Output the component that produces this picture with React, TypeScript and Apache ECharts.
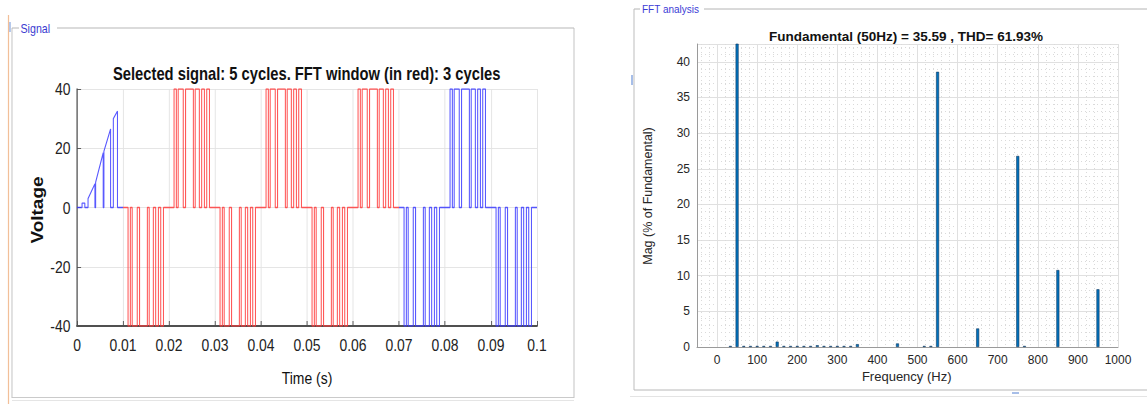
import React, { useEffect, useRef } from "react";
import * as echarts from "echarts";

// ---------------- Signal (time domain) data ----------------
// start of each half cycle after the start-up transient (ms)
const halfCycleStartMs = [10, 20, 30, 40, 50, 60, 70, 80, 90];
const halfCyclePolarity = [-1, 1, -1, 1, -1, 1, -1, 1, -1];
const halfCycleInFftWindow = [true, true, true, true, true, true, false, false, false];
const halfCycleLengthMs = 10;
// switching instants inside a half cycle (ms from its start)
const pulseOnMs = [1.1, 2.0, 3.6, 5.7, 7.1, 8.2];
const pulseOffMs = [1.6, 3.1, 5.3, 6.6, 7.7, 8.8];
const pulseLevelV = 40;
// start-up transient during the first half cycle
const transientTimeMs = [0, 1.1, 1.1, 1.7, 1.7, 2.4, 2.4, 3.9, 3.9, 4.05, 4.05, 5.7, 5.7, 5.85, 5.85, 7.3, 7.3, 7.9, 7.9, 8.8, 8.8, 10];
const transientVolt = [0, 0, 1.5, 1.5, 0, 0, 3, 8, 0, 0, 8.5, 18.5, 0, 0, 19, 26.5, 0, 0, 30, 32.5, 0, 0];

// ---------------- FFT data ----------------
const fftFreqHz = [33.3, 50, 66.7, 83.3, 100, 116.7, 133.3, 150, 166.7, 183.3, 200, 216.7, 233.3, 250, 266.7, 283.3, 300, 316.7, 333.3, 350, 450, 516.7, 533.3, 550, 650, 750, 766.7, 850, 950];
const fftMagPct = [0.15, 100, 0.15, 0.15, 0.15, 0.15, 0.15, 0.75, 0.15, 0.15, 0.15, 0.15, 0.15, 0.25, 0.15, 0.15, 0.15, 0.15, 0.15, 0.4, 0.5, 0.15, 0.15, 38.6, 2.6, 26.8, 0.15, 10.8, 8.1];

const leftTitle = "Selected signal: 5 cycles. FFT window (in red): 3 cycles";
const rightTitle = "Fundamental (50Hz) = 35.59 , THD= 61.93%";

const FONT = "'Liberation Sans', Arial, Helvetica, sans-serif";
const SX = 0.82; // horizontal compression of the left panel

function halfCyclePoints(i: number): number[][] {
  const s = halfCycleStartMs[i];
  const lvl = halfCyclePolarity[i] * pulseLevelV;
  const pts: number[][] = [[s / 1000, 0]];
  for (let k = 0; k < pulseOnMs.length; k++) {
    const on = (s + pulseOnMs[k]) / 1000;
    const off = (s + pulseOffMs[k]) / 1000;
    pts.push([on, 0], [on, lvl], [off, lvl], [off, 0]);
  }
  pts.push([(s + halfCycleLengthMs) / 1000, 0]);
  return pts;
}

function buildSignal() {
  const start = transientTimeMs.map((t, i) => [t / 1000, transientVolt[i]]);
  const red: number[][] = [];
  const blueEnd: number[][] = [];
  halfCycleStartMs.forEach((_, i) => {
    const pts = halfCyclePoints(i);
    if (halfCycleInFftWindow[i]) red.push(...pts);
    else blueEnd.push(...pts);
  });
  return { start, red, blueEnd };
}

function line(x1: number, y1: number, x2: number, y2: number, stroke: string, w = 1) {
  return { type: "line", silent: true, shape: { x1, y1, x2, y2 }, style: { stroke, lineWidth: w } };
}

export default function App() {
  const leftRef = useRef<HTMLDivElement>(null);
  const rightRef = useRef<HTMLDivElement>(null);

  useEffect(() => {
    const left = echarts.init(leftRef.current!, undefined, { renderer: "svg" });
    const right = echarts.init(rightRef.current!, undefined, { renderer: "svg" });
    const sig = buildSignal();
    const u = (x: number) => x / SX;
    const lineSeries = (data: number[][], color: string) => ({
      type: "line",
      data,
      showSymbol: false,
      symbol: "none",
      silent: true,
      lineStyle: { color, width: 1.3, opacity: 0.85 },
    });

    left.setOption({
      animation: false,
      textStyle: { fontFamily: FONT },
      grid: { left: u(77), top: 89, width: u(460), height: 237 },
      xAxis: {
        type: "value",
        min: 0,
        max: 0.1,
        interval: 0.01,
        axisLine: { show: true, onZero: false, lineStyle: { color: "#505050", width: 2 } },
        axisTick: { show: true, inside: true, length: 5, lineStyle: { color: "#505050" } },
        axisLabel: {
          fontSize: 17,
          color: "#222",
          margin: 10,
          fontFamily: FONT,
          formatter: (v: number) => String(Number(v.toFixed(2))),
        },
        splitLine: { show: true, lineStyle: { color: "#e2e2e2" } },
      },
      yAxis: {
        type: "value",
        min: -40,
        max: 40,
        interval: 20,
        axisLine: { show: true, onZero: false, lineStyle: { color: "#505050", width: 1.5 } },
        axisTick: { show: true, inside: true, length: 5, lineStyle: { color: "#505050" } },
        axisLabel: { fontSize: 17, color: "#222", margin: 8, fontFamily: FONT },
        splitLine: { show: true, lineStyle: { color: "#e2e2e2" } },
      },
      series: [
        lineSeries(sig.start, "#3c3cff"),
        lineSeries(sig.red, "#ff3c3c"),
        lineSeries(sig.blueEnd, "#3c3cff"),
      ],
      graphic: [
        line(u(8.5), 15, u(8.5), 404, "#f2bf99", 1.5),
        line(u(12), 28, u(12), 398, "#bdbdbd"),
        line(u(10), 22, u(10), 32, "#8aa8e0", 1.5),
        line(u(12), 28, u(19), 28, "#b0b0b0"),
        line(u(57), 28, u(574), 28, "#b0b0b0"),
        line(u(574), 28, u(574), 398, "#bdbdbd"),
        line(u(12), 397.5, u(574), 397.5, "#c4c4c4"),
        line(u(12), 400.5, u(574), 400.5, "#e2e2e2"),
        {
          type: "text",
          x: u(20.5),
          y: 29,
          style: { text: "Signal", fontSize: 13, fill: "#3b3bd0", fontFamily: FONT, verticalAlign: "middle", align: "left" },
        },
        {
          type: "text",
          x: u(306.7),
          y: 73,
          style: { text: leftTitle, fontSize: 18, fontWeight: "bold", fill: "#111", fontFamily: FONT, align: "center", verticalAlign: "middle" },
        },
        {
          type: "text",
          x: u(37.5),
          y: 210,
          rotation: Math.PI / 2,
          style: { text: "Voltage", fontSize: 19, fontWeight: "bold", fill: "#111", fontFamily: FONT, align: "center", verticalAlign: "middle" },
        },
        {
          type: "text",
          x: u(307),
          y: 378,
          style: { text: "Time (s)", fontSize: 17, fill: "#111", fontFamily: FONT, align: "center", verticalAlign: "middle" },
        },
      ],
    });

    const ox = 600;
    right.setOption({
      animation: false,
      textStyle: { fontFamily: FONT },
      grid: { left: 697 - ox, top: 44, width: 421, height: 303 },
      xAxis: {
        type: "value",
        min: -50,
        max: 1000,
        splitNumber: 10,
        minInterval: 100,
        maxInterval: 100,
        axisLine: { show: true, onZero: false, lineStyle: { color: "#9a9a9a" } },
        axisTick: { show: false },
        axisLabel: {
          fontSize: 12,
          color: "#262626",
          margin: 7,
          fontFamily: FONT,
          formatter: (v: number) => (v < 0 ? "" : String(v)),
        },
        splitLine: { show: true, lineStyle: { color: "#e0e0e0" } },
        minorTick: { show: false, splitNumber: 5 },
        minorSplitLine: { show: true, lineStyle: { color: "#dadada", type: [1, 3] } },
      },
      yAxis: {
        type: "value",
        min: 0,
        max: 42.5,
        interval: 5,
        axisLine: { show: true, onZero: false, lineStyle: { color: "#9a9a9a" } },
        axisTick: { show: false },
        axisLabel: {
          fontSize: 12,
          color: "#262626",
          margin: 7,
          fontFamily: FONT,
          formatter: (v: number) => (v > 40 ? "" : String(v)),
        },
        splitLine: { show: true, lineStyle: { color: "#e0e0e0" } },
        minorTick: { show: false, splitNumber: 5 },
        minorSplitLine: { show: true, lineStyle: { color: "#dadada", type: [1, 3] } },
      },
      series: [
        {
          type: "bar",
          data: fftFreqHz.map((f, i) => [f, fftMagPct[i]]),
          barWidth: 3,
          clip: true,
          silent: true,
          itemStyle: { color: "#0072BD", borderColor: "#10375e", borderWidth: 0.6 },
        },
      ],
      graphic: [
        line(634 - ox, 9, 640 - ox, 9, "#b4b4b4"),
        line(704 - ox, 9, 1147 - ox, 9, "#b4b4b4"),
        line(634 - ox, 9, 634 - ox, 390, "#bdbdbd"),
        line(634 - ox, 390, 1147 - ox, 390, "#b8b8b8"),
        line(630 - ox, 396.5, 1147 - ox, 396.5, "#e4e4e4"),
        line(632 - ox, 75, 632 - ox, 85, "#8aa8e0", 1.5),
        line(1012 - ox, 393, 1019 - ox, 393, "#8aa8e0", 1.5),
        {
          type: "text",
          x: 642 - ox,
          y: 9,
          style: { text: "FFT analysis", fontSize: 10, fill: "#3b3bd6", fontFamily: FONT, verticalAlign: "middle", align: "left" },
        },
        {
          type: "text",
          x: 906 - ox,
          y: 36,
          style: { text: rightTitle, fontSize: 13.5, fontWeight: "bold", fill: "#111", fontFamily: FONT, align: "center", verticalAlign: "middle" },
        },
        {
          type: "text",
          x: 648 - ox,
          y: 196,
          rotation: Math.PI / 2,
          style: { text: "Mag (% of Fundamental)", fontSize: 12.5, fill: "#262626", fontFamily: FONT, align: "center", verticalAlign: "middle" },
        },
        {
          type: "text",
          x: 906.7 - ox,
          y: 376,
          style: { text: "Frequency (Hz)", fontSize: 13, fill: "#262626", fontFamily: FONT, align: "center", verticalAlign: "middle" },
        },
      ],
    });

    return () => {
      left.dispose();
      right.dispose();
    };
  }, []);

  return (
    <div style={{ position: "fixed", left: 0, top: 0, width: 1147, height: 405, overflow: "hidden", background: "#fff" }}>
      <div
        ref={leftRef}
        style={{ position: "absolute", left: 0, top: 0, width: 707, height: 405, transform: `scaleX(${SX})`, transformOrigin: "0 0" }}
      />
      <div ref={rightRef} style={{ position: "absolute", left: 600, top: 0, width: 547, height: 405 }} />
    </div>
  );
}
